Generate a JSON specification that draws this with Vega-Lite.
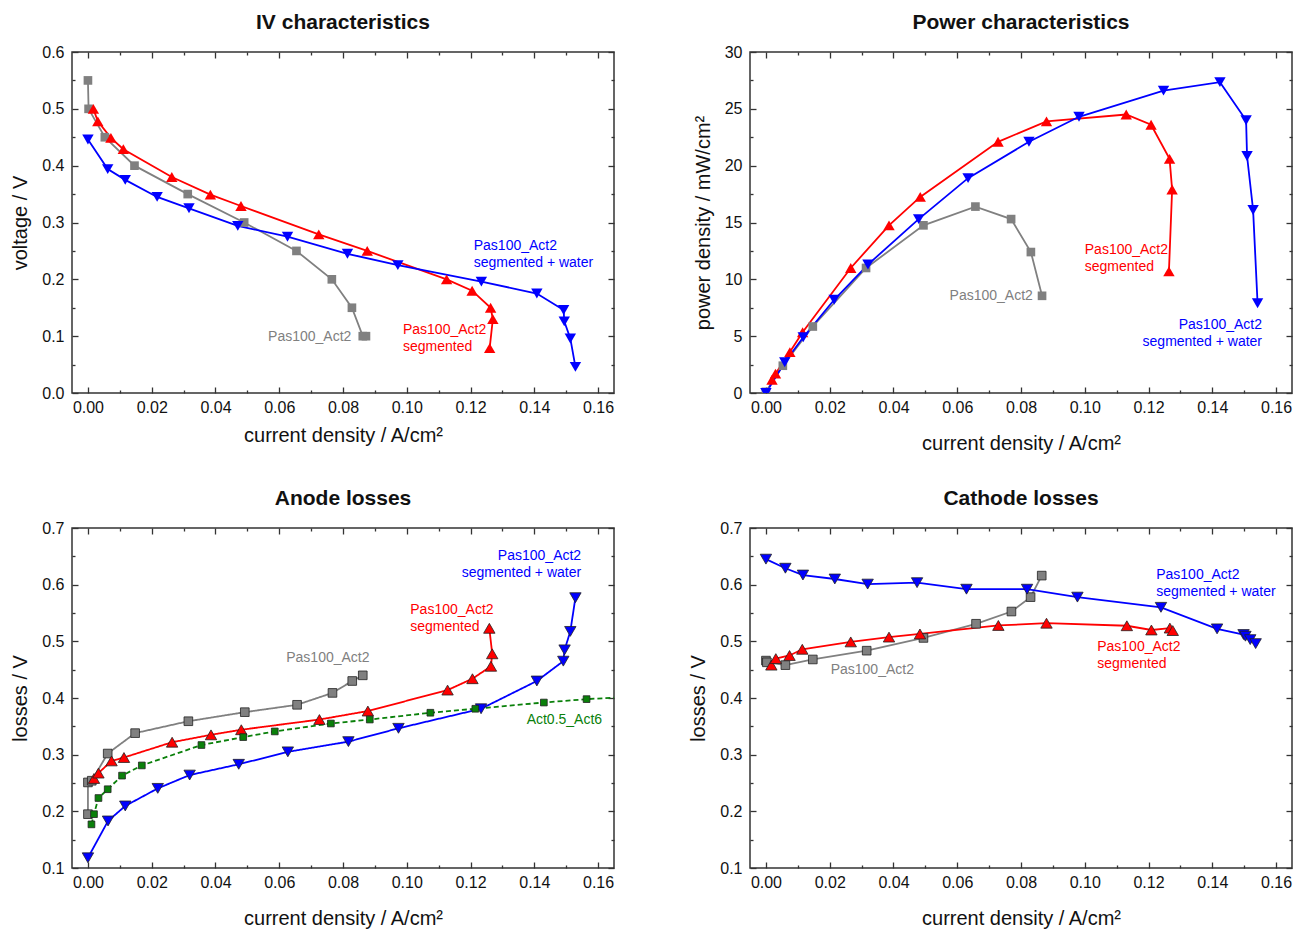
{
  "$schema": "https://vega.github.io/schema/vega-lite/v6.json",
  "padding": {"left": 10, "top": 11, "right": 2, "bottom": 2},
  "columns": 2,
  "spacing": {"row": 135, "column": 136},
  "bounds": "flush",
  "datasets": {
    "iv": [
      {"series": "Pas100_Act2", "i": 0, "x": 0.0, "y": 0.55},
      {"series": "Pas100_Act2", "i": 1, "x": 0.0002, "y": 0.50},
      {"series": "Pas100_Act2", "i": 2, "x": 0.0053, "y": 0.45},
      {"series": "Pas100_Act2", "i": 3, "x": 0.0146, "y": 0.40},
      {"series": "Pas100_Act2", "i": 4, "x": 0.0313, "y": 0.35},
      {"series": "Pas100_Act2", "i": 5, "x": 0.049, "y": 0.30},
      {"series": "Pas100_Act2", "i": 6, "x": 0.0654, "y": 0.25},
      {"series": "Pas100_Act2", "i": 7, "x": 0.0765, "y": 0.20},
      {"series": "Pas100_Act2", "i": 8, "x": 0.0828, "y": 0.15},
      {"series": "Pas100_Act2", "i": 9, "x": 0.0862, "y": 0.10},
      {"series": "Pas100_Act2", "i": 10, "x": 0.0872, "y": 0.10},
      {"series": "segmented", "i": 0, "x": 0.0017, "y": 0.50},
      {"series": "segmented", "i": 1, "x": 0.0031, "y": 0.478},
      {"series": "segmented", "i": 2, "x": 0.0072, "y": 0.449},
      {"series": "segmented", "i": 3, "x": 0.0111, "y": 0.429},
      {"series": "segmented", "i": 4, "x": 0.0263, "y": 0.380},
      {"series": "segmented", "i": 5, "x": 0.0384, "y": 0.349},
      {"series": "segmented", "i": 6, "x": 0.048, "y": 0.329},
      {"series": "segmented", "i": 7, "x": 0.0724, "y": 0.279},
      {"series": "segmented", "i": 8, "x": 0.0876, "y": 0.250},
      {"series": "segmented", "i": 9, "x": 0.1125, "y": 0.200},
      {"series": "segmented", "i": 10, "x": 0.1205, "y": 0.180},
      {"series": "segmented", "i": 11, "x": 0.1263, "y": 0.150},
      {"series": "segmented", "i": 12, "x": 0.127, "y": 0.130},
      {"series": "segmented", "i": 13, "x": 0.126, "y": 0.079},
      {"series": "water", "i": 0, "x": 0.0, "y": 0.446},
      {"series": "water", "i": 1, "x": 0.0062, "y": 0.394},
      {"series": "water", "i": 2, "x": 0.0117, "y": 0.375},
      {"series": "water", "i": 3, "x": 0.0217, "y": 0.345},
      {"series": "water", "i": 4, "x": 0.0317, "y": 0.325},
      {"series": "water", "i": 5, "x": 0.047, "y": 0.294},
      {"series": "water", "i": 6, "x": 0.0626, "y": 0.275},
      {"series": "water", "i": 7, "x": 0.0814, "y": 0.245},
      {"series": "water", "i": 8, "x": 0.0972, "y": 0.225},
      {"series": "water", "i": 9, "x": 0.1234, "y": 0.196},
      {"series": "water", "i": 10, "x": 0.1408, "y": 0.175},
      {"series": "water", "i": 11, "x": 0.1492, "y": 0.146},
      {"series": "water", "i": 12, "x": 0.1494, "y": 0.126},
      {"series": "water", "i": 13, "x": 0.1513, "y": 0.096},
      {"series": "water", "i": 14, "x": 0.1529, "y": 0.046}
    ],
    "power": [
      {"series": "Pas100_Act2", "i": 0, "x": 0.0, "y": 0.1},
      {"series": "Pas100_Act2", "i": 1, "x": 0.0053, "y": 2.4},
      {"series": "Pas100_Act2", "i": 2, "x": 0.0147, "y": 5.85},
      {"series": "Pas100_Act2", "i": 3, "x": 0.0314, "y": 11.0},
      {"series": "Pas100_Act2", "i": 4, "x": 0.0494, "y": 14.75},
      {"series": "Pas100_Act2", "i": 5, "x": 0.0657, "y": 16.4},
      {"series": "Pas100_Act2", "i": 6, "x": 0.0769, "y": 15.3},
      {"series": "Pas100_Act2", "i": 7, "x": 0.0831, "y": 12.4},
      {"series": "Pas100_Act2", "i": 8, "x": 0.0866, "y": 8.55},
      {"series": "segmented", "i": 0, "x": 0.0019, "y": 1.17},
      {"series": "segmented", "i": 1, "x": 0.003, "y": 1.7},
      {"series": "segmented", "i": 2, "x": 0.0075, "y": 3.6},
      {"series": "segmented", "i": 3, "x": 0.0115, "y": 5.35},
      {"series": "segmented", "i": 4, "x": 0.0266, "y": 11.0},
      {"series": "segmented", "i": 5, "x": 0.0386, "y": 14.75},
      {"series": "segmented", "i": 6, "x": 0.0484, "y": 17.25},
      {"series": "segmented", "i": 7, "x": 0.0728, "y": 22.1},
      {"series": "segmented", "i": 8, "x": 0.088, "y": 23.9},
      {"series": "segmented", "i": 9, "x": 0.113, "y": 24.5},
      {"series": "segmented", "i": 10, "x": 0.1208, "y": 23.6},
      {"series": "segmented", "i": 11, "x": 0.1266, "y": 20.6},
      {"series": "segmented", "i": 12, "x": 0.1274, "y": 17.9},
      {"series": "segmented", "i": 13, "x": 0.1264, "y": 10.7},
      {"series": "water", "i": 0, "x": 0.0, "y": 0.0},
      {"series": "water", "i": 1, "x": 0.0059, "y": 2.7},
      {"series": "water", "i": 2, "x": 0.0117, "y": 4.9},
      {"series": "water", "i": 3, "x": 0.0214, "y": 8.2},
      {"series": "water", "i": 4, "x": 0.032, "y": 11.3},
      {"series": "water", "i": 5, "x": 0.0479, "y": 15.3},
      {"series": "water", "i": 6, "x": 0.0634, "y": 18.9},
      {"series": "water", "i": 7, "x": 0.0825, "y": 22.1},
      {"series": "water", "i": 8, "x": 0.0982, "y": 24.3},
      {"series": "water", "i": 9, "x": 0.1247, "y": 26.6},
      {"series": "water", "i": 10, "x": 0.1424, "y": 27.35},
      {"series": "water", "i": 11, "x": 0.1506, "y": 24.0},
      {"series": "water", "i": 12, "x": 0.1509, "y": 20.85},
      {"series": "water", "i": 13, "x": 0.1528, "y": 16.1},
      {"series": "water", "i": 14, "x": 0.1542, "y": 7.9}
    ],
    "anode": [
      {"series": "Pas100_Act2", "i": 0, "x": 0.0, "y": 0.195},
      {"series": "Pas100_Act2", "i": 1, "x": 0.0, "y": 0.251},
      {"series": "Pas100_Act2", "i": 2, "x": 0.0012, "y": 0.254},
      {"series": "Pas100_Act2", "i": 3, "x": 0.0062, "y": 0.302},
      {"series": "Pas100_Act2", "i": 4, "x": 0.0148, "y": 0.338},
      {"series": "Pas100_Act2", "i": 5, "x": 0.0315, "y": 0.359},
      {"series": "Pas100_Act2", "i": 6, "x": 0.0492, "y": 0.375},
      {"series": "Pas100_Act2", "i": 7, "x": 0.0656, "y": 0.388},
      {"series": "Pas100_Act2", "i": 8, "x": 0.0767, "y": 0.409},
      {"series": "Pas100_Act2", "i": 9, "x": 0.0829, "y": 0.430},
      {"series": "Pas100_Act2", "i": 10, "x": 0.0862, "y": 0.440},
      {"series": "segmented", "i": 0, "x": 0.0019, "y": 0.258},
      {"series": "segmented", "i": 1, "x": 0.0033, "y": 0.2675},
      {"series": "segmented", "i": 2, "x": 0.0074, "y": 0.289},
      {"series": "segmented", "i": 3, "x": 0.0113, "y": 0.295},
      {"series": "segmented", "i": 4, "x": 0.0264, "y": 0.322},
      {"series": "segmented", "i": 5, "x": 0.0386, "y": 0.335},
      {"series": "segmented", "i": 6, "x": 0.0481, "y": 0.344},
      {"series": "segmented", "i": 7, "x": 0.0726, "y": 0.362},
      {"series": "segmented", "i": 8, "x": 0.0878, "y": 0.377},
      {"series": "segmented", "i": 9, "x": 0.1128, "y": 0.414},
      {"series": "segmented", "i": 10, "x": 0.1206, "y": 0.434},
      {"series": "segmented", "i": 11, "x": 0.1264, "y": 0.456},
      {"series": "segmented", "i": 12, "x": 0.1268, "y": 0.478},
      {"series": "segmented", "i": 13, "x": 0.1259, "y": 0.523},
      {"series": "water", "i": 0, "x": 0.0, "y": 0.118},
      {"series": "water", "i": 1, "x": 0.0063, "y": 0.183},
      {"series": "water", "i": 2, "x": 0.0117, "y": 0.2095},
      {"series": "water", "i": 3, "x": 0.0219, "y": 0.2405},
      {"series": "water", "i": 4, "x": 0.0319, "y": 0.264},
      {"series": "water", "i": 5, "x": 0.0473, "y": 0.283},
      {"series": "water", "i": 6, "x": 0.0627, "y": 0.305},
      {"series": "water", "i": 7, "x": 0.0817, "y": 0.323},
      {"series": "water", "i": 8, "x": 0.0974, "y": 0.3465},
      {"series": "water", "i": 9, "x": 0.1233, "y": 0.381},
      {"series": "water", "i": 10, "x": 0.1408, "y": 0.430},
      {"series": "water", "i": 11, "x": 0.1491, "y": 0.465},
      {"series": "water", "i": 12, "x": 0.1495, "y": 0.485},
      {"series": "water", "i": 13, "x": 0.1513, "y": 0.5175},
      {"series": "water", "i": 14, "x": 0.1529, "y": 0.577},
      {"series": "Act0.5_Act6", "i": 0, "x": 0.0011, "y": 0.177},
      {"series": "Act0.5_Act6", "i": 1, "x": 0.0019, "y": 0.195},
      {"series": "Act0.5_Act6", "i": 2, "x": 0.0033, "y": 0.2235},
      {"series": "Act0.5_Act6", "i": 3, "x": 0.0062, "y": 0.239},
      {"series": "Act0.5_Act6", "i": 4, "x": 0.0107, "y": 0.263},
      {"series": "Act0.5_Act6", "i": 5, "x": 0.0169, "y": 0.281},
      {"series": "Act0.5_Act6", "i": 6, "x": 0.0356, "y": 0.317},
      {"series": "Act0.5_Act6", "i": 7, "x": 0.0487, "y": 0.331},
      {"series": "Act0.5_Act6", "i": 8, "x": 0.0586, "y": 0.341},
      {"series": "Act0.5_Act6", "i": 9, "x": 0.0762, "y": 0.355},
      {"series": "Act0.5_Act6", "i": 10, "x": 0.0884, "y": 0.362},
      {"series": "Act0.5_Act6", "i": 11, "x": 0.1074, "y": 0.374},
      {"series": "Act0.5_Act6", "i": 12, "x": 0.1215, "y": 0.381},
      {"series": "Act0.5_Act6", "i": 13, "x": 0.143, "y": 0.392},
      {"series": "Act0.5_Act6", "i": 14, "x": 0.1564, "y": 0.398},
      {"series": "Act0.5_Act6", "i": 15, "x": 0.18, "y": 0.405}
    ],
    "cathode": [
      {"series": "Pas100_Act2", "i": 0, "x": 0.0, "y": 0.466},
      {"series": "Pas100_Act2", "i": 1, "x": 0.0003, "y": 0.463},
      {"series": "Pas100_Act2", "i": 2, "x": 0.0061, "y": 0.458},
      {"series": "Pas100_Act2", "i": 3, "x": 0.0147, "y": 0.468},
      {"series": "Pas100_Act2", "i": 4, "x": 0.0316, "y": 0.4835},
      {"series": "Pas100_Act2", "i": 5, "x": 0.0494, "y": 0.506},
      {"series": "Pas100_Act2", "i": 6, "x": 0.0659, "y": 0.531},
      {"series": "Pas100_Act2", "i": 7, "x": 0.077, "y": 0.5526},
      {"series": "Pas100_Act2", "i": 8, "x": 0.083, "y": 0.578},
      {"series": "Pas100_Act2", "i": 9, "x": 0.0865, "y": 0.616},
      {"series": "segmented", "i": 0, "x": 0.0017, "y": 0.458},
      {"series": "segmented", "i": 1, "x": 0.0031, "y": 0.4695},
      {"series": "segmented", "i": 2, "x": 0.0074, "y": 0.475},
      {"series": "segmented", "i": 3, "x": 0.0114, "y": 0.486},
      {"series": "segmented", "i": 4, "x": 0.0266, "y": 0.499},
      {"series": "segmented", "i": 5, "x": 0.0386, "y": 0.5075},
      {"series": "segmented", "i": 6, "x": 0.0483, "y": 0.513},
      {"series": "segmented", "i": 7, "x": 0.0729, "y": 0.528},
      {"series": "segmented", "i": 8, "x": 0.088, "y": 0.532},
      {"series": "segmented", "i": 9, "x": 0.1132, "y": 0.5275},
      {"series": "segmented", "i": 10, "x": 0.1209, "y": 0.520},
      {"series": "segmented", "i": 11, "x": 0.1267, "y": 0.5234},
      {"series": "segmented", "i": 12, "x": 0.1276, "y": 0.519},
      {"series": "water", "i": 0, "x": 0.0, "y": 0.645},
      {"series": "water", "i": 1, "x": 0.0061, "y": 0.629},
      {"series": "water", "i": 2, "x": 0.0116, "y": 0.617},
      {"series": "water", "i": 3, "x": 0.0216, "y": 0.610},
      {"series": "water", "i": 4, "x": 0.0319, "y": 0.601},
      {"series": "water", "i": 5, "x": 0.0474, "y": 0.6035},
      {"series": "water", "i": 6, "x": 0.0629, "y": 0.592},
      {"series": "water", "i": 7, "x": 0.0819, "y": 0.592},
      {"series": "water", "i": 8, "x": 0.0977, "y": 0.578},
      {"series": "water", "i": 9, "x": 0.1239, "y": 0.560},
      {"series": "water", "i": 10, "x": 0.1415, "y": 0.522},
      {"series": "water", "i": 11, "x": 0.1498, "y": 0.512},
      {"series": "water", "i": 12, "x": 0.1504, "y": 0.509},
      {"series": "water", "i": 13, "x": 0.1519, "y": 0.503},
      {"series": "water", "i": 14, "x": 0.1536, "y": 0.496}
    ],
    "labels": [
      {"panel": "iv", "series": "Pas100_Act2", "x": 0.0565, "y": 0.110, "label": "Pas100_Act2"},
      {"panel": "iv", "series": "segmented", "x": 0.0988, "y": 0.1235, "label": "Pas100_Act2\nsegmented"},
      {"panel": "iv", "series": "water", "x": 0.121, "y": 0.271, "label": "Pas100_Act2\nsegmented + water"},
      {"panel": "power", "series": "Pas100_Act2", "x": 0.0576, "y": 9.16, "label": "Pas100_Act2"},
      {"panel": "power", "series": "segmented", "x": 0.100, "y": 13.17, "label": "Pas100_Act2\nsegmented"},
      {"panel": "power", "series": "water", "x": 0.1556, "y": 6.6, "label": "Pas100_Act2\nsegmented + water"},
      {"panel": "anode", "series": "Pas100_Act2", "x": 0.0622, "y": 0.483, "label": "Pas100_Act2"},
      {"panel": "anode", "series": "segmented", "x": 0.1011, "y": 0.568, "label": "Pas100_Act2\nsegmented"},
      {"panel": "anode", "series": "water", "x": 0.1547, "y": 0.663, "label": "Pas100_Act2\nsegmented + water"},
      {"panel": "anode", "series": "Act0.5_Act6", "x": 0.1376, "y": 0.373, "label": "Act0.5_Act6"},
      {"panel": "cathode", "series": "water", "x": 0.1224, "y": 0.629, "label": "Pas100_Act2\nsegmented + water"},
      {"panel": "cathode", "series": "segmented", "x": 0.1039, "y": 0.502, "label": "Pas100_Act2\nsegmented"},
      {"panel": "cathode", "series": "Pas100_Act2", "x": 0.0203, "y": 0.462, "label": "Pas100_Act2"}
    ]
  },
  "concat": [
    {
      "title": "IV characteristics",
      "width": 542, "height": 341,
      "data": {"name": "iv"},
      "resolve": {"axis": {"x": "independent", "y": "independent"}},
      "layer": [
        {
          "mark": {"type": "point", "opacity": 0},
          "encoding": {
            "x": {"field": "x", "type": "quantitative", "scale": {"domain": [-0.005, 0.165], "nice": false, "zero": false},
              "axis": {"orient": "top", "title": null, "labels": false, "values": [0,0.01,0.02,0.03,0.04,0.05,0.06,0.07,0.08,0.09,0.1,0.11,0.12,0.13,0.14,0.15,0.16],
                "tickSize": {"condition": {"test": "round(datum.value*100) % 2 == 0", "value": -6}, "value": -3}}},
            "y": {"field": "y", "type": "quantitative", "scale": {"domain": [0, 0.6], "nice": false, "zero": false},
              "axis": {"orient": "right", "title": null, "labels": false, "values": [0,0.05,0.1,0.15,0.2,0.25,0.3,0.35,0.4,0.45,0.5,0.55,0.6],
                "tickSize": {"condition": {"test": "round(datum.value*100) % 10 == 0", "value": -6}, "value": -3}}}
          }
        },
        {
          "mark": {"type": "line", "strokeWidth": 1.8, "clip": true},
          "encoding": {
            "x": {"field": "x", "type": "quantitative", "scale": {"domain": [-0.005, 0.165], "nice": false, "zero": false},
              "axis": {"orient": "bottom", "title": "current density / A/cm²", "values": [0,0.01,0.02,0.03,0.04,0.05,0.06,0.07,0.08,0.09,0.1,0.11,0.12,0.13,0.14,0.15,0.16],
                "labelExpr": "round(datum.value*100) % 2 == 0 ? format(datum.value, '.2f') : ''",
                "tickSize": {"condition": {"test": "round(datum.value*100) % 2 == 0", "value": -6}, "value": -3},
                "labelPadding": 12, "titlePadding": 7}},
            "y": {"field": "y", "type": "quantitative", "scale": {"domain": [0, 0.6], "nice": false, "zero": false},
              "axis": {"orient": "left", "title": "voltage / V", "values": [0,0.05,0.1,0.15,0.2,0.25,0.3,0.35,0.4,0.45,0.5,0.55,0.6],
                "labelExpr": "round(datum.value*100) % 10 == 0 ? format(datum.value, '.1f') : ''",
                "tickSize": {"condition": {"test": "round(datum.value*100) % 10 == 0", "value": -6}, "value": -3},
                "labelPadding": 14, "titlePadding": 11}},
            "color": {"field": "series", "type": "nominal", "legend": null, "scale": {"domain": ["Pas100_Act2", "segmented", "water", "Act0.5_Act6"], "range": ["#808080", "#ff0000", "#0000ff", "#0a800a"]}},
            "order": {"field": "i", "type": "quantitative"}
          }
        },
        {
          "mark": {"type": "point", "filled": true, "opacity": 1, "clip": true},
          "encoding": {
            "x": {"field": "x", "type": "quantitative", "axis": null},
            "y": {"field": "y", "type": "quantitative", "axis": null},
            "color": {"field": "series", "type": "nominal", "legend": null, "scale": {"domain": ["Pas100_Act2", "segmented", "water", "Act0.5_Act6"], "range": ["#808080", "#ff0000", "#0000ff", "#0a800a"]}},
            "shape": {"field": "series", "type": "nominal", "legend": null, "scale": {"domain": ["Pas100_Act2", "segmented", "water", "Act0.5_Act6"], "range": ["square", "triangle-up", "triangle-down", "square"]}},
            "size": {"field": "series", "type": "nominal", "legend": null, "scale": {"type": "ordinal", "domain": ["Pas100_Act2", "segmented", "water", "Act0.5_Act6"], "range": [75, 130, 130, 45]}}
          }
        },
        {
          "data": {"name": "labels"},
          "transform": [{"filter": "datum.panel == 'iv'"}],
          "mark": {"type": "text", "align": "left", "baseline": "top", "fontSize": 14, "lineBreak": "\n", "lineHeight": 17},
          "encoding": {
            "x": {"field": "x", "type": "quantitative", "axis": null},
            "y": {"field": "y", "type": "quantitative", "axis": null},
            "text": {"field": "label"},
            "color": {"field": "series", "type": "nominal", "legend": null, "scale": {"domain": ["Pas100_Act2", "segmented", "water", "Act0.5_Act6"], "range": ["#808080", "#ff0000", "#0000ff", "#0a800a"]}}
          }
        }
      ]
    },
    {
      "title": "Power characteristics",
      "width": 542, "height": 341,
      "data": {"name": "power"},
      "resolve": {"axis": {"x": "independent", "y": "independent"}},
      "layer": [
        {
          "mark": {"type": "point", "opacity": 0},
          "encoding": {
            "x": {"field": "x", "type": "quantitative", "scale": {"domain": [-0.005, 0.165], "nice": false, "zero": false},
              "axis": {"orient": "top", "title": null, "labels": false, "values": [0,0.01,0.02,0.03,0.04,0.05,0.06,0.07,0.08,0.09,0.1,0.11,0.12,0.13,0.14,0.15,0.16],
                "tickSize": {"condition": {"test": "round(datum.value*100) % 2 == 0", "value": -6}, "value": -3}}},
            "y": {"field": "y", "type": "quantitative", "scale": {"domain": [0, 30], "nice": false, "zero": false},
              "axis": {"orient": "right", "title": null, "labels": false, "values": [0,2.5,5,7.5,10,12.5,15,17.5,20,22.5,25,27.5,30],
                "tickSize": {"condition": {"test": "datum.value % 5 == 0", "value": -6}, "value": -3}}}
          }
        },
        {
          "mark": {"type": "line", "strokeWidth": 1.8, "clip": true},
          "encoding": {
            "x": {"field": "x", "type": "quantitative", "scale": {"domain": [-0.005, 0.165], "nice": false, "zero": false},
              "axis": {"orient": "bottom", "title": "current density / A/cm²", "values": [0,0.01,0.02,0.03,0.04,0.05,0.06,0.07,0.08,0.09,0.1,0.11,0.12,0.13,0.14,0.15,0.16],
                "labelExpr": "round(datum.value*100) % 2 == 0 ? format(datum.value, '.2f') : ''",
                "tickSize": {"condition": {"test": "round(datum.value*100) % 2 == 0", "value": -6}, "value": -3},
                "labelPadding": 12, "titlePadding": 15}},
            "y": {"field": "y", "type": "quantitative", "scale": {"domain": [0, 30], "nice": false, "zero": false},
              "axis": {"orient": "left", "title": "power density / mW/cm²", "values": [0,2.5,5,7.5,10,12.5,15,17.5,20,22.5,25,27.5,30],
                "labelExpr": "datum.value % 5 == 0 ? format(datum.value, 'd') : ''",
                "tickSize": {"condition": {"test": "datum.value % 5 == 0", "value": -6}, "value": -3},
                "labelPadding": 14, "titlePadding": 11}},
            "color": {"field": "series", "type": "nominal", "legend": null, "scale": {"domain": ["Pas100_Act2", "segmented", "water", "Act0.5_Act6"], "range": ["#808080", "#ff0000", "#0000ff", "#0a800a"]}},
            "order": {"field": "i", "type": "quantitative"}
          }
        },
        {
          "mark": {"type": "point", "filled": true, "opacity": 1, "clip": true},
          "encoding": {
            "x": {"field": "x", "type": "quantitative", "axis": null},
            "y": {"field": "y", "type": "quantitative", "axis": null},
            "color": {"field": "series", "type": "nominal", "legend": null, "scale": {"domain": ["Pas100_Act2", "segmented", "water", "Act0.5_Act6"], "range": ["#808080", "#ff0000", "#0000ff", "#0a800a"]}},
            "shape": {"field": "series", "type": "nominal", "legend": null, "scale": {"domain": ["Pas100_Act2", "segmented", "water", "Act0.5_Act6"], "range": ["square", "triangle-up", "triangle-down", "square"]}},
            "size": {"field": "series", "type": "nominal", "legend": null, "scale": {"type": "ordinal", "domain": ["Pas100_Act2", "segmented", "water", "Act0.5_Act6"], "range": [75, 130, 130, 45]}}
          }
        },
        {
          "data": {"name": "labels"},
          "transform": [{"filter": "datum.panel == 'power' && datum.series != 'water'"}],
          "mark": {"type": "text", "align": "left", "baseline": "top", "fontSize": 14, "lineBreak": "\n", "lineHeight": 17},
          "encoding": {
            "x": {"field": "x", "type": "quantitative", "axis": null},
            "y": {"field": "y", "type": "quantitative", "axis": null},
            "text": {"field": "label"},
            "color": {"field": "series", "type": "nominal", "legend": null, "scale": {"domain": ["Pas100_Act2", "segmented", "water", "Act0.5_Act6"], "range": ["#808080", "#ff0000", "#0000ff", "#0a800a"]}}
          }
        },
        {
          "data": {"name": "labels"},
          "transform": [{"filter": "datum.panel == 'power' && datum.series == 'water'"}],
          "mark": {"type": "text", "align": "right", "baseline": "top", "fontSize": 14, "lineBreak": "\n", "lineHeight": 17},
          "encoding": {
            "x": {"field": "x", "type": "quantitative", "axis": null},
            "y": {"field": "y", "type": "quantitative", "axis": null},
            "text": {"field": "label"},
            "color": {"field": "series", "type": "nominal", "legend": null, "scale": {"domain": ["Pas100_Act2", "segmented", "water", "Act0.5_Act6"], "range": ["#808080", "#ff0000", "#0000ff", "#0a800a"]}}
          }
        }
      ]
    },
    {
      "title": "Anode losses",
      "width": 542, "height": 340,
      "data": {"name": "anode"},
      "resolve": {"axis": {"x": "independent", "y": "independent"}},
      "layer": [
        {
          "mark": {"type": "point", "opacity": 0},
          "encoding": {
            "x": {"field": "x", "type": "quantitative", "scale": {"domain": [-0.005, 0.165], "nice": false, "zero": false},
              "axis": {"orient": "top", "title": null, "labels": false, "values": [0,0.01,0.02,0.03,0.04,0.05,0.06,0.07,0.08,0.09,0.1,0.11,0.12,0.13,0.14,0.15,0.16],
                "tickSize": {"condition": {"test": "round(datum.value*100) % 2 == 0", "value": -6}, "value": -3}}},
            "y": {"field": "y", "type": "quantitative", "scale": {"domain": [0.1, 0.7], "nice": false, "zero": false},
              "axis": {"orient": "right", "title": null, "labels": false, "values": [0.1,0.15,0.2,0.25,0.3,0.35,0.4,0.45,0.5,0.55,0.6,0.65,0.7],
                "tickSize": {"condition": {"test": "round(datum.value*100) % 10 == 0", "value": -6}, "value": -3}}}
          }
        },
        {
          "mark": {"type": "line", "strokeWidth": 1.8, "clip": true},
          "encoding": {
            "x": {"field": "x", "type": "quantitative", "scale": {"domain": [-0.005, 0.165], "nice": false, "zero": false},
              "axis": {"orient": "bottom", "title": "current density / A/cm²", "values": [0,0.01,0.02,0.03,0.04,0.05,0.06,0.07,0.08,0.09,0.1,0.11,0.12,0.13,0.14,0.15,0.16],
                "labelExpr": "round(datum.value*100) % 2 == 0 ? format(datum.value, '.2f') : ''",
                "tickSize": {"condition": {"test": "round(datum.value*100) % 2 == 0", "value": -6}, "value": -3},
                "labelPadding": 12, "titlePadding": 15}},
            "y": {"field": "y", "type": "quantitative", "scale": {"domain": [0.1, 0.7], "nice": false, "zero": false},
              "axis": {"orient": "left", "title": "losses / V", "values": [0.1,0.15,0.2,0.25,0.3,0.35,0.4,0.45,0.5,0.55,0.6,0.65,0.7],
                "labelExpr": "round(datum.value*100) % 10 == 0 ? format(datum.value, '.1f') : ''",
                "tickSize": {"condition": {"test": "round(datum.value*100) % 10 == 0", "value": -6}, "value": -3},
                "labelPadding": 14, "titlePadding": 11}},
            "color": {"field": "series", "type": "nominal", "legend": null, "scale": {"domain": ["Pas100_Act2", "segmented", "water", "Act0.5_Act6"], "range": ["#808080", "#ff0000", "#0000ff", "#0a800a"]}},
            "strokeDash": {"field": "series", "type": "nominal", "legend": null, "scale": {"domain": ["Pas100_Act2", "segmented", "water", "Act0.5_Act6"], "range": [[1, 0], [1, 0], [1, 0], [5, 3]]}},
            "order": {"field": "i", "type": "quantitative"}
          }
        },
        {
          "mark": {"type": "point", "filled": true, "opacity": 1, "clip": true, "stroke": "#222222", "strokeWidth": 0.8},
          "encoding": {
            "x": {"field": "x", "type": "quantitative", "axis": null},
            "y": {"field": "y", "type": "quantitative", "axis": null},
            "color": {"field": "series", "type": "nominal", "legend": null, "scale": {"domain": ["Pas100_Act2", "segmented", "water", "Act0.5_Act6"], "range": ["#808080", "#ff0000", "#0000ff", "#0a800a"]}},
            "shape": {"field": "series", "type": "nominal", "legend": null, "scale": {"domain": ["Pas100_Act2", "segmented", "water", "Act0.5_Act6"], "range": ["square", "triangle-up", "triangle-down", "square"]}},
            "size": {"field": "series", "type": "nominal", "legend": null, "scale": {"type": "ordinal", "domain": ["Pas100_Act2", "segmented", "water", "Act0.5_Act6"], "range": [65, 130, 130, 45]}}
          }
        },
        {
          "data": {"name": "labels"},
          "transform": [{"filter": "datum.panel == 'anode' && datum.series != 'water'"}],
          "mark": {"type": "text", "align": "left", "baseline": "top", "fontSize": 14, "lineBreak": "\n", "lineHeight": 17},
          "encoding": {
            "x": {"field": "x", "type": "quantitative", "axis": null},
            "y": {"field": "y", "type": "quantitative", "axis": null},
            "text": {"field": "label"},
            "color": {"field": "series", "type": "nominal", "legend": null, "scale": {"domain": ["Pas100_Act2", "segmented", "water", "Act0.5_Act6"], "range": ["#808080", "#ff0000", "#0000ff", "#0a800a"]}}
          }
        },
        {
          "data": {"name": "labels"},
          "transform": [{"filter": "datum.panel == 'anode' && datum.series == 'water'"}],
          "mark": {"type": "text", "align": "right", "baseline": "top", "fontSize": 14, "lineBreak": "\n", "lineHeight": 17},
          "encoding": {
            "x": {"field": "x", "type": "quantitative", "axis": null},
            "y": {"field": "y", "type": "quantitative", "axis": null},
            "text": {"field": "label"},
            "color": {"field": "series", "type": "nominal", "legend": null, "scale": {"domain": ["Pas100_Act2", "segmented", "water", "Act0.5_Act6"], "range": ["#808080", "#ff0000", "#0000ff", "#0a800a"]}}
          }
        }
      ]
    },
    {
      "title": "Cathode losses",
      "width": 542, "height": 340,
      "data": {"name": "cathode"},
      "resolve": {"axis": {"x": "independent", "y": "independent"}},
      "layer": [
        {
          "mark": {"type": "point", "opacity": 0},
          "encoding": {
            "x": {"field": "x", "type": "quantitative", "scale": {"domain": [-0.005, 0.165], "nice": false, "zero": false},
              "axis": {"orient": "top", "title": null, "labels": false, "values": [0,0.01,0.02,0.03,0.04,0.05,0.06,0.07,0.08,0.09,0.1,0.11,0.12,0.13,0.14,0.15,0.16],
                "tickSize": {"condition": {"test": "round(datum.value*100) % 2 == 0", "value": -6}, "value": -3}}},
            "y": {"field": "y", "type": "quantitative", "scale": {"domain": [0.1, 0.7], "nice": false, "zero": false},
              "axis": {"orient": "right", "title": null, "labels": false, "values": [0.1,0.15,0.2,0.25,0.3,0.35,0.4,0.45,0.5,0.55,0.6,0.65,0.7],
                "tickSize": {"condition": {"test": "round(datum.value*100) % 10 == 0", "value": -6}, "value": -3}}}
          }
        },
        {
          "mark": {"type": "line", "strokeWidth": 1.8, "clip": true},
          "encoding": {
            "x": {"field": "x", "type": "quantitative", "scale": {"domain": [-0.005, 0.165], "nice": false, "zero": false},
              "axis": {"orient": "bottom", "title": "current density / A/cm²", "values": [0,0.01,0.02,0.03,0.04,0.05,0.06,0.07,0.08,0.09,0.1,0.11,0.12,0.13,0.14,0.15,0.16],
                "labelExpr": "round(datum.value*100) % 2 == 0 ? format(datum.value, '.2f') : ''",
                "tickSize": {"condition": {"test": "round(datum.value*100) % 2 == 0", "value": -6}, "value": -3},
                "labelPadding": 12, "titlePadding": 15}},
            "y": {"field": "y", "type": "quantitative", "scale": {"domain": [0.1, 0.7], "nice": false, "zero": false},
              "axis": {"orient": "left", "title": "losses / V", "values": [0.1,0.15,0.2,0.25,0.3,0.35,0.4,0.45,0.5,0.55,0.6,0.65,0.7],
                "labelExpr": "round(datum.value*100) % 10 == 0 ? format(datum.value, '.1f') : ''",
                "tickSize": {"condition": {"test": "round(datum.value*100) % 10 == 0", "value": -6}, "value": -3},
                "labelPadding": 14, "titlePadding": 11}},
            "color": {"field": "series", "type": "nominal", "legend": null, "scale": {"domain": ["Pas100_Act2", "segmented", "water", "Act0.5_Act6"], "range": ["#808080", "#ff0000", "#0000ff", "#0a800a"]}},
            "order": {"field": "i", "type": "quantitative"}
          }
        },
        {
          "mark": {"type": "point", "filled": true, "opacity": 1, "clip": true, "stroke": "#222222", "strokeWidth": 0.8},
          "encoding": {
            "x": {"field": "x", "type": "quantitative", "axis": null},
            "y": {"field": "y", "type": "quantitative", "axis": null},
            "color": {"field": "series", "type": "nominal", "legend": null, "scale": {"domain": ["Pas100_Act2", "segmented", "water", "Act0.5_Act6"], "range": ["#808080", "#ff0000", "#0000ff", "#0a800a"]}},
            "shape": {"field": "series", "type": "nominal", "legend": null, "scale": {"domain": ["Pas100_Act2", "segmented", "water", "Act0.5_Act6"], "range": ["square", "triangle-up", "triangle-down", "square"]}},
            "size": {"field": "series", "type": "nominal", "legend": null, "scale": {"type": "ordinal", "domain": ["Pas100_Act2", "segmented", "water", "Act0.5_Act6"], "range": [65, 130, 130, 45]}}
          }
        },
        {
          "data": {"name": "labels"},
          "transform": [{"filter": "datum.panel == 'cathode'"}],
          "mark": {"type": "text", "align": "left", "baseline": "top", "fontSize": 14, "lineBreak": "\n", "lineHeight": 17},
          "encoding": {
            "x": {"field": "x", "type": "quantitative", "axis": null},
            "y": {"field": "y", "type": "quantitative", "axis": null},
            "text": {"field": "label"},
            "color": {"field": "series", "type": "nominal", "legend": null, "scale": {"domain": ["Pas100_Act2", "segmented", "water", "Act0.5_Act6"], "range": ["#808080", "#ff0000", "#0000ff", "#0a800a"]}}
          }
        }
      ]
    }
  ],
  "config": {
    "font": "Liberation Sans",
    "view": {"stroke": "#333333", "strokeWidth": 1.5},
    "axis": {"domain": false, "grid": false, "labelFont": "Liberation Sans", "titleFont": "Liberation Sans", "labelFontSize": 16, "labelColor": "#111111", "titleFontSize": 20, "titleFontWeight": "normal", "titleColor": "#111111", "tickColor": "#333333", "tickWidth": 1.3, "labelOverlap": false, "labelFlush": false},
    "title": {"fontSize": 21, "fontWeight": "bold", "anchor": "middle", "offset": 11, "color": "#111111", "font": "Liberation Sans"},
    "text": {"font": "Liberation Sans"}
  }
}
